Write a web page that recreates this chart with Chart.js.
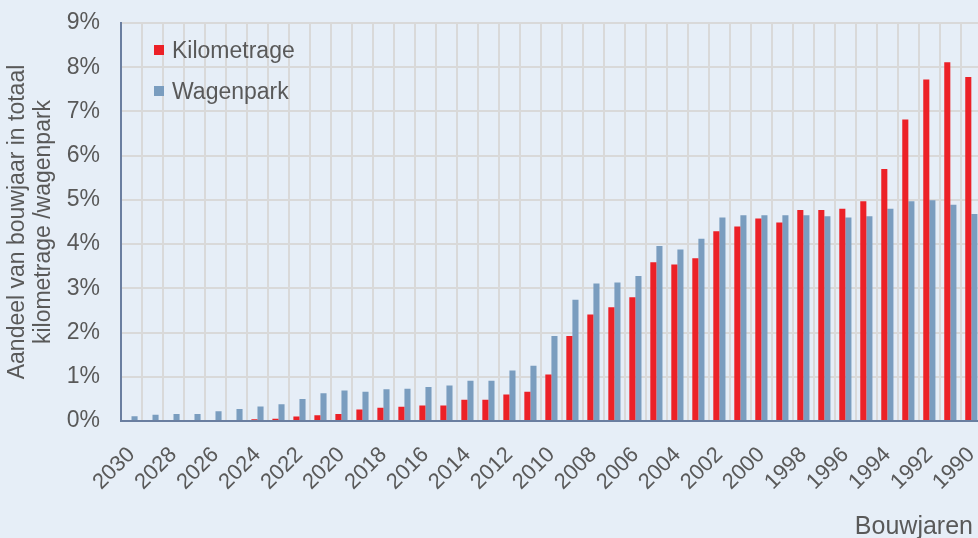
<!DOCTYPE html>
<html>
<head>
<meta charset="utf-8">
<script src="https://cdn.jsdelivr.net/npm/chart.js@4/dist/chart.umd.min.js"></script>
<style>
html,body{margin:0;padding:0;width:978px;height:538px;overflow:hidden;background:#e6eef7;font-family:"Liberation Sans",Arial,sans-serif;}
#wrap{position:absolute;left:0;top:0;width:1011px;height:538px;}
.leg{position:absolute;left:154px;font-size:23px;color:#595959;line-height:24px;white-space:nowrap;}
.leg span.sw{display:inline-block;width:10px;height:10px;margin-right:8px;vertical-align:middle;position:relative;top:-2px;}
#xt{position:absolute;right:5px;top:510px;font-size:25px;line-height:30px;color:#595959;}
</style>
</head>
<body>
<div id="wrap"><canvas id="c"></canvas></div>
<div id="legend"></div>
<div id="xt">Bouwjaren</div>
<script>
const years = [2030,2029,2028,2027,2026,2025,2024,2023,2022,2021,2020,2019,2018,2017,2016,2015,2014,2013,2012,2011,2010,2009,2008,2007,2006,2005,2004,2003,2002,2001,2000,1999,1998,1997,1996,1995,1994,1993,1992,1991,1990];
const kilometrage = [0,0,0,0,0,0,0.04,0.05,0.10,0.13,0.16,0.26,0.30,0.32,0.35,0.35,0.48,0.48,0.60,0.66,1.05,1.92,2.41,2.57,2.80,3.59,3.54,3.68,4.29,4.40,4.58,4.49,4.77,4.77,4.80,4.97,5.70,6.82,7.72,8.11,7.78];
const wagenpark = [0.11,0.14,0.16,0.16,0.22,0.27,0.33,0.38,0.50,0.63,0.69,0.66,0.72,0.73,0.77,0.80,0.91,0.91,1.14,1.25,1.92,2.74,3.11,3.13,3.28,3.96,3.88,4.12,4.60,4.65,4.65,4.65,4.65,4.63,4.60,4.63,4.80,4.97,4.99,4.89,4.68];
const seriesNames = ["Kilometrage","Wagenpark"];
const seriesColors = ["#ec2127","#7a9dbf"];
const yTitle = ["Aandeel van bouwjaar in totaal","kilometrage /wagenpark"];

const FONT = "'Liberation Sans', Arial, sans-serif";
const TXT = "#595959";

const chart = new Chart(document.getElementById('c'), {
  type: 'bar',
  data: {
    labels: years.map(String),
    datasets: [
      {label: seriesNames[0], data: kilometrage, backgroundColor: seriesColors[0], barPercentage: 1, categoryPercentage: 0.58},
      {label: seriesNames[1], data: wagenpark, backgroundColor: seriesColors[1], barPercentage: 1, categoryPercentage: 0.58}
    ]
  },
  options: {
    responsive: true,
    maintainAspectRatio: false,
    animation: false,
    layout: {padding: {left: 0, right: 0, top: 23, bottom: 0}},
    plugins: {legend: {display: false}, tooltip: {enabled: false}},
    scales: {
      x: {
        grid: {color: '#d9d9d9', lineWidth: 2, drawTicks: false},
        border: {color: '#6a7ea0', width: 2},
        ticks: {
          autoSkip: false, minRotation: 45, maxRotation: 45, padding: 21,
          color: TXT, font: {family: FONT, size: 22},
          callback: function(v, i) { return i % 2 === 0 ? this.getLabelForValue(v) : ''; }
        },
        afterFit: s => { s.height = 117; }
      },
      y: {
        min: 0, max: 9,
        grid: {color: '#d9d9d9', lineWidth: 2, drawTicks: true, tickLength: 18, tickColor: 'rgba(0,0,0,0)'},
        border: {color: '#6a7ea0', width: 2},
        ticks: {stepSize: 1, padding: 3, color: TXT, font: {family: FONT, size: 23}, callback: v => v + '%'},
        title: {display: true, text: yTitle, color: TXT, font: {family: FONT, size: 23, lineHeight: '26px'}, padding: {top: 5, bottom: 0}},
        afterFit: s => { s.width = 121; }
      }
    }
  }
});

const leg = document.getElementById('legend');
const tops = [38, 79];
seriesNames.forEach((n, i) => {
  const d = document.createElement('div');
  d.className = 'leg';
  d.style.top = tops[i] + 'px';
  d.innerHTML = '<span class="sw" style="background:' + seriesColors[i] + '"></span>' + n;
  leg.appendChild(d);
});
</script>
</body>
</html>
